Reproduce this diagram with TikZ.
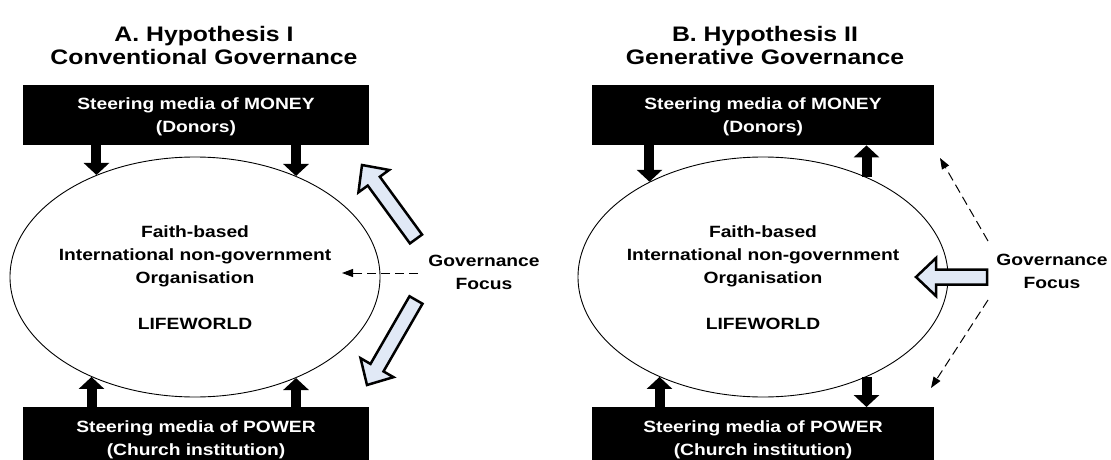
\documentclass[tikz,border=0pt]{standalone}
\usepackage{fontspec}
\setmainfont{Liberation Sans}[FakeStretch=1.18]
\usetikzlibrary{calc,arrows.meta,shapes.geometric}
\definecolor{hollowfill}{RGB}{225,233,246}
% #1 tail coordinate, #2 tip coordinate, #3 name of neck coordinate
\newcommand{\hollowarrow}[3]{%
  \coordinate (#3) at ($(#2)!20pt!(#1)$);
  \draw[bigarrow] ($(#1)!7.5pt!90:(#2)$) -- ($(#3)!7.5pt!90:(#2)$) -- ($(#3)!19pt!90:(#2)$) -- (#2)
    -- ($(#3)!19pt!-90:(#2)$) -- ($(#3)!7.5pt!-90:(#2)$) -- ($(#1)!7.5pt!-90:(#2)$) -- cycle;}
\begin{document}
\begin{tikzpicture}[x=1pt,y=-1pt,
  titletext/.style={font=\fontsize{21}{23.3}\selectfont\bfseries, align=center, anchor=base, inner sep=0pt},
  bodytext/.style={font=\fontsize{16.3}{22.5}\selectfont\bfseries, align=center, anchor=base, inner sep=0pt},
  ovaltext/.style={bodytext, font=\fontsize{16.3}{23}\selectfont\bfseries},
  boxtext/.style={bodytext, text=white},
  mediabox/.style={fill=black, draw=none, anchor=north west, minimum height=60pt, inner sep=0pt},
  lifeworld/.style={ellipse, draw=black, line width=0.9pt, minimum width=370pt, minimum height=240pt, inner sep=0pt},
  flowarrow/.style={line width=10pt, -{Triangle[width=25pt,length=12pt]}},
  focusarrow/.style={line width=1pt, dash pattern=on 9pt off 5pt, -{Triangle[width=8pt,length=11pt]}},
  bigarrow/.style={fill=hollowfill, draw=black, line width=2.5pt, line join=miter}]
\useasboundingbox (0,0) rectangle (1111,460);
\clip (0,0) rectangle (1111,460);

% ---------------- Panel A ----------------
\node[titletext] (titleA) at (204,65) {A. Hypothesis I\\Conventional Governance};
\node[mediabox, minimum width=346pt] (moneyA) at (23,85) {};
\node[boxtext] (moneyAt) at (196,132) {Steering media of MONEY\\(Donors)};
\node[lifeworld] (ellA) at (195,277) {};
\node[ovaltext] (ellAt) at (195,329) {Faith-based\\International non-government\\Organisation\\[23pt]LIFEWORLD};
\node[mediabox, minimum width=346pt] (powerA) at (23,407) {};
\node[boxtext] (powerAt) at (196,455) {Steering media of POWER\\(Church institution)};
\node[bodytext] (focusA) at (484,289) {Governance\\Focus};

\draw[flowarrow] (ellA.134.5 |- moneyA.south) -- (ellA.134.5);
\draw[flowarrow] (ellA.45.1 |- moneyA.south) -- (ellA.45.1);
\draw[flowarrow] (ellA.224.9 |- powerA.north) -- (ellA.224.9);
\draw[flowarrow] (ellA.315.9 |- powerA.north) -- (ellA.315.9);

\coordinate (dA1) at (418,273);
\coordinate (dA2) at (342,273);
\draw[focusarrow] (dA1) -- (dA2);

\coordinate (hA1t) at (416,239);
\coordinate (hA1p) at (362,165);
\hollowarrow{hA1t}{hA1p}{hA1n}
\coordinate (hA2t) at (416,300);
\coordinate (hA2p) at (367,385);
\hollowarrow{hA2t}{hA2p}{hA2n}

% ---------------- Panel B ----------------
\node[titletext] (titleB) at (765,65) {B. Hypothesis II\\Generative Governance};
\node[mediabox, minimum width=342pt] (moneyB) at (592,85) {};
\node[boxtext] (moneyBt) at (763,132) {Steering media of MONEY\\(Donors)};
\node[lifeworld] (ellB) at (763,277) {};
\node[ovaltext] (ellBt) at (763,329) {Faith-based\\International non-government\\Organisation\\[23pt]LIFEWORLD};
\node[mediabox, minimum width=342pt] (powerB) at (592,407) {};
\node[boxtext] (powerBt) at (763,455) {Steering media of POWER\\(Church institution)};
\node[bodytext] (focusB) at (1052,288) {Governance\\Focus};

\draw[flowarrow] (ellB.140.7 |- moneyB.south) -- (ellB.140.7);
\draw[flowarrow] (ellB.44.85) -- (ellB.44.85 |- moneyB.south);
\draw[flowarrow] (ellB.224.85 |- powerB.north) -- (ellB.224.85);
\draw[flowarrow] (ellB.316.7) -- (ellB.316.7 |- powerB.north);

\coordinate (dB1) at (988,241);
\coordinate (dB2) at (940,158);
\draw[focusarrow] (dB1) -- (dB2);
\coordinate (dB3) at (988,300);
\coordinate (dB4) at (931,388);
\draw[focusarrow] (dB3) -- (dB4);

\coordinate (hBt) at (987,277);
\coordinate (hBp) at (916,277);
\hollowarrow{hBt}{hBp}{hBn}
\end{tikzpicture}
\end{document}
